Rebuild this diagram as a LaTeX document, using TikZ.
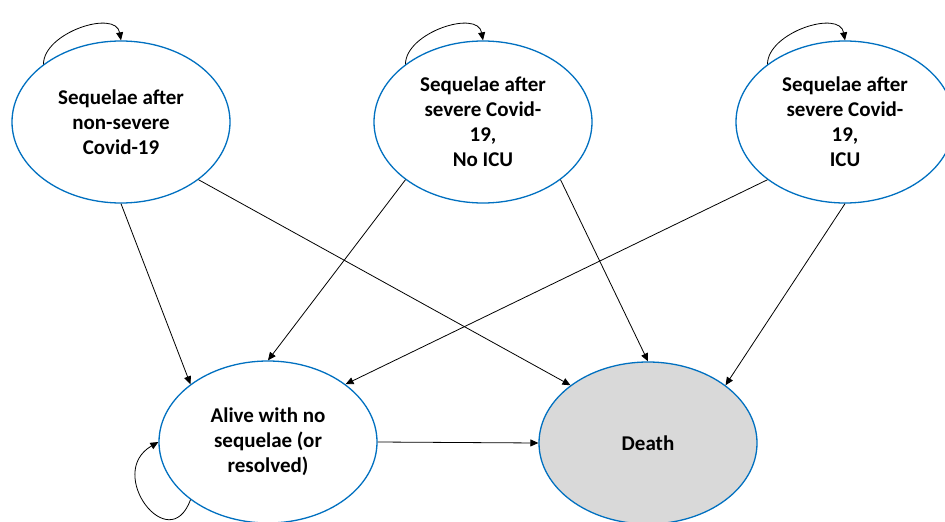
\documentclass[tikz,border=0pt]{standalone}
\usepackage{fontspec}
\setmainfont{Carlito}
\usetikzlibrary{arrows.meta,shapes.geometric}
\definecolor{stateblue}{HTML}{0070C0}
\definecolor{deathgrey}{HTML}{D9D9D9}

\begin{document}
\begin{tikzpicture}[
  x=1pt, y=1pt,
  font=\fontsize{21}{25}\selectfont\bfseries,
  >={Triangle[length=8pt, width=7pt]},
  state/.style={ellipse, draw=stateblue, line width=1.3pt, align=center,
                inner sep=0pt, minimum width=218pt, minimum height=162pt, fill=white},
  absorb/.style={state, fill=deathgrey},
  trans/.style={->, line width=0.8pt, draw=black},
  selfarc/.style={->, line width=0.8pt, draw=black},
]
\useasboundingbox (0,0) rectangle (945,-522);

% ---- Top row : sequelae states ----
\node[state]  (nonsev)   at (121,-122) {Sequelae after\\non-severe\\Covid-19};
\node[state]  (sevnoicu) at (483,-122) {Sequelae after\\severe Covid-\\19,\\No ICU};
\node[state]  (sevicu)   at (845,-122) {Sequelae after\\severe Covid-\\19,\\ICU};
% ---- Bottom row : resolved and death ----
\node[state]  (alive)    at (268,-442) {Alive with no\\sequelae (or\\resolved)};
\node[absorb] (death)    at (648,-443) {Death};

% ---- Self transitions ----
\draw[selfarc] (nonsev.north west)   to[out=90, in=100] (nonsev.north);
\draw[selfarc] (sevnoicu.north west) to[out=90, in=100] (sevnoicu.north);
\draw[selfarc] (sevicu.north west)   to[out=90, in=100] (sevicu.north);
\draw[selfarc] (alive.south west)    to[out=-110, in=210, looseness=2.4] (alive.west);

% ---- Transitions ----
\draw[trans] (nonsev.south)        -- (alive.north west);
\draw[trans] (nonsev.south east)   -- (death.north west);
\draw[trans] (sevnoicu.south west) -- (alive.north);
\draw[trans] (sevnoicu.south east) -- (death.north);
\draw[trans] (sevicu.south west)   -- (alive.north east);
\draw[trans] (sevicu.south)        -- (death.north east);
\draw[trans] (alive.east)          -- (death.west);
\end{tikzpicture}
\end{document}
